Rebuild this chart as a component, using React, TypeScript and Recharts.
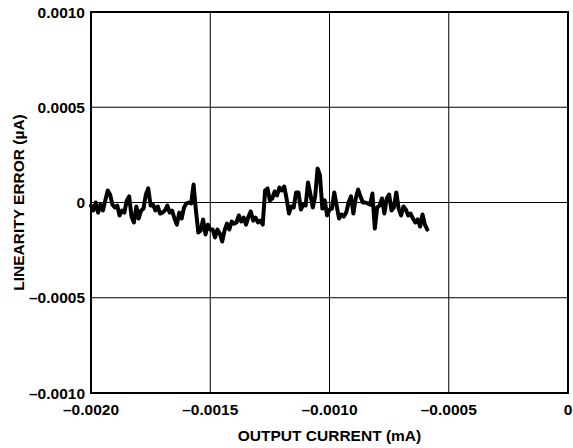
import React from 'react';
import { LineChart, Line, XAxis, YAxis, CartesianGrid, ReferenceArea } from 'recharts';

// output current (mA), one sample every 0.00001 mA
const outputCurrent = [
  -0.002, -0.00199, -0.00198, -0.00197, -0.00196, -0.00195, -0.00194, -0.00193, -0.00192, -0.00191,
  -0.0019, -0.00189, -0.00188, -0.00187, -0.00186, -0.00185, -0.00184, -0.00183, -0.00182, -0.00181,
  -0.0018, -0.00179, -0.00178, -0.00177, -0.00176, -0.00175, -0.00174, -0.00173, -0.00172, -0.00171,
  -0.0017, -0.00169, -0.00168, -0.00167, -0.00166, -0.00165, -0.00164, -0.00163, -0.00162, -0.00161,
  -0.0016, -0.00159, -0.00158, -0.00157, -0.00156, -0.00155, -0.00154, -0.00153, -0.00152, -0.00151,
  -0.0015, -0.00149, -0.00148, -0.00147, -0.00146, -0.00145, -0.00144, -0.00143, -0.00142, -0.00141,
  -0.0014, -0.00139, -0.00138, -0.00137, -0.00136, -0.00135, -0.00134, -0.00133, -0.00132, -0.00131,
  -0.0013, -0.00129, -0.00128, -0.00127, -0.00126, -0.00125, -0.00124, -0.00123, -0.00122, -0.00121,
  -0.0012, -0.00119, -0.00118, -0.00117, -0.00116, -0.00115, -0.00114, -0.00113, -0.00112, -0.00111,
  -0.0011, -0.00109, -0.00108, -0.00107, -0.00106, -0.00105, -0.00104, -0.00103, -0.00102, -0.00101,
  -0.001, -0.00099, -0.00098, -0.00097, -0.00096, -0.00095, -0.00094, -0.00093, -0.00092, -0.00091,
  -0.0009, -0.00089, -0.00088, -0.00087, -0.00086, -0.00085, -0.00084, -0.00083, -0.00082, -0.00081,
  -0.0008, -0.00079, -0.00078, -0.00077, -0.00076, -0.00075, -0.00074, -0.00073, -0.00072, -0.00071,
  -0.0007, -0.00069, -0.00068, -0.00067, -0.00066, -0.00065, -0.00064, -0.00063, -0.00062, -0.00061,
  -0.0006, -0.00059,
];

// linearity error (µA)
const linearityError = [
  -0.000016, -0.000042, 0, -0.000053, -0.000011, -0.000042, 0.000011, 0.000063, 0.000042, -0.000011,
  -0.000026, -0.000016, -0.000068, -0.000042, -0.000053, 0.000011, 0.000032, -0.000074, -0.000105, -0.000021,
  -0.000084, -0.000042, -0.000032, 0.000042, 0.000074, -0.000016, -0.000011, -0.000042, -0.000021, -0.000058,
  -0.000053, -0.000042, -0.000016, -0.000053, -0.000042, -0.000084, -0.000116, -0.000053, -0.000084, -0.000026,
  -0.000005, 0, -0.000005, 0.000095, -0.000042, -0.000158, -0.000147, -0.000089, -0.000168, -0.000116,
  -0.000142, -0.000142, -0.000184, -0.000142, -0.000163, -0.000205, -0.000147, -0.000111, -0.000142, -0.0001,
  -0.000111, -0.000105, -0.000068, -0.0001, -0.000079, -0.000116, -0.000074, -0.000047, -0.000095, -0.000079,
  -0.000105, -0.000095, -0.000116, 0.000063, 0.000074, 0.000011, 0.000021, 0.000058, 0.000037, 0.000079,
  0.000063, 0.000084, 0.000021, -0.000058, -0.000021, -0.000026, 0.000053, 0.000053, -0.000037, -0.000011,
  -0.000016, 0.000105, 0.000042, -0.000026, 0.000032, 0.000179, 0.000142, -0.000032, 0.000011, -0.000068,
  -0.000037, -0.000032, 0.000053, -0.000016, -0.000084, -0.000063, -0.000074, -0.000053, 0, 0.000032,
  -0.000058, 0.000021, 0.000068, 0.000032, 0, 0, -0.000005, -0.000011, 0.000047, -0.000137,
  -0.000026, -0.000016, 0.000021, -0.000058, 0.000021, 0.000042, -0.000042, -0.000026, 0.000053, -0.000032,
  -0.000068, -0.000021, -0.000037, -0.000068, -0.000058, -0.000084, -0.000105, -0.000089, -0.000126, -0.000063,
  -0.000116, -0.000142,
];

const xTicks = [-0.002, -0.0015, -0.001, -0.0005, 0];
const xTickLabels = ['–0.0020', '–0.0015', '–0.0010', '–0.0005', '0'];
const yTicks = [-0.001, -0.0005, 0, 0.0005, 0.001];
const yTickLabels = ['–0.0010', '–0.0005', '0', '0.0005', '0.0010'];

const font = { fontFamily: '"Liberation Sans", Arial, sans-serif', fontWeight: 700, fontSize: 15.5, fill: '#000' };

const data = outputCurrent.map((x, i) => ({ x, y: linearityError[i] }));

export default function App() {
  return (
    <div style={{ position: 'absolute', left: 0, top: 0 }}>
      <LineChart width={573} height={448} data={data} margin={{ top: 12, right: 5, bottom: 0, left: 0 }}>
        <CartesianGrid stroke="#000" strokeWidth={1} />
        <XAxis
          dataKey="x"
          type="number"
          domain={[-0.002, 0]}
          ticks={xTicks}
          tickFormatter={(v: number) => xTickLabels[xTicks.indexOf(v)] ?? String(v)}
          tick={font}
          tickLine={false}
          tickSize={0}
          tickMargin={11}
          axisLine={{ stroke: '#000', strokeWidth: 2 }}
          height={55}
          label={{ value: 'OUTPUT CURRENT (mA)', position: 'insideBottom', offset: 7, style: font }}
        />
        <YAxis
          type="number"
          domain={[-0.001, 0.001]}
          ticks={yTicks}
          tickFormatter={(v: number) => yTickLabels[yTicks.indexOf(v)] ?? String(v)}
          tick={font}
          tickLine={false}
          tickSize={0}
          tickMargin={6}
          axisLine={{ stroke: '#000', strokeWidth: 2 }}
          width={91}
          label={{ value: 'LINEARITY ERROR (µA)', angle: -90, position: 'insideLeft', offset: 18, style: { ...font, textAnchor: 'middle' } }}
        />
        <ReferenceArea x1={-0.002} x2={0} y1={-0.001} y2={0.001} fill="none" stroke="#000" strokeWidth={2} />
        <Line
          type="linear"
          dataKey="y"
          stroke="#000"
          strokeWidth={4}
          strokeLinejoin="round"
          strokeLinecap="round"
          dot={false}
          isAnimationActive={false}
        />
      </LineChart>
    </div>
  );
}
